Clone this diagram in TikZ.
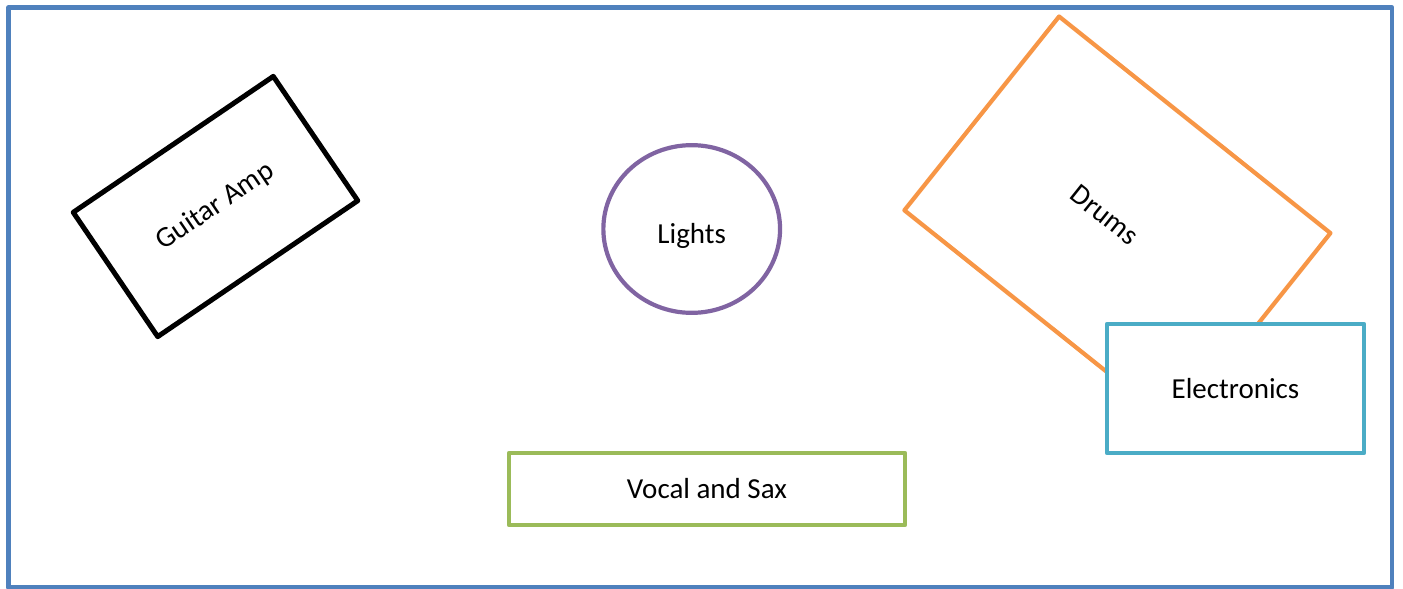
\documentclass[tikz,border=0pt]{standalone}
\usepackage{fontspec}
\setmainfont{Carlito}
\usetikzlibrary{shapes.geometric}
\definecolor{stageblue}{HTML}{4F81BD}
\definecolor{lightspurple}{HTML}{8064A2}
\definecolor{drumsorange}{HTML}{F79646}
\definecolor{elecblue}{HTML}{4BACC6}
\definecolor{vocalgreen}{HTML}{9BBB59}
\tikzset{stagebox/.style={draw,rectangle,line width=2.1pt,inner sep=0pt,font=\fontsize{14.5pt}{17pt}\selectfont},
	stagetext/.style={inner sep=0pt,font=\fontsize{14.5pt}{17pt}\selectfont}}

\begin{document}
\begin{tikzpicture}[line cap=round,line join=round,x=0.5pt,y=-0.5pt]
			\useasboundingbox (0,0) rectangle (1403,589);
			\draw [line width=2.25pt,color=stageblue] (8.5,7.5) rectangle (1392,587.5);
			\node [stagebox,line width=2.5pt,rotate=34.2,minimum width=120.95pt,minimum height=75.15pt] (amp) at (215.5,206.5) {Guitar Amp};
			\node [stagebox,shape=ellipse,color=lightspurple,minimum width=88.35pt,minimum height=83.85pt] (lights) at (691.7,229) {};
			\node [stagetext] (lightstext) at (691.7,236) {Lights};
			\node [stagebox,color=drumsorange,rotate=-38.6,minimum width=173.6pt,minimum height=124pt] (drums) at (1117.4,221.7) {};
			\node [stagetext,rotate=-38.6] (drumstext) at (1105,215) {Drums};
			\node [stagebox,color=elecblue,fill=white,text=black,minimum width=128.5pt,minimum height=64.5pt] (elec) at (1235.5,388.5) {Electronics};
			\node [stagebox,color=vocalgreen,text=black,minimum width=198pt,minimum height=36pt] (vocal) at (707,489) {Vocal and Sax};
		\end{tikzpicture}
\end{document}
